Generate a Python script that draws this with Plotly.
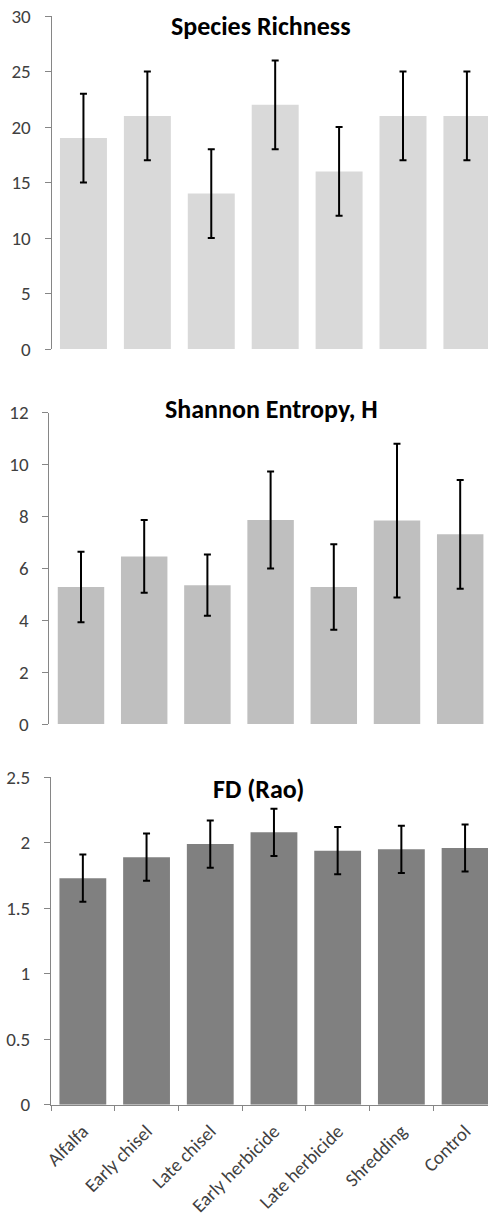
import plotly.graph_objects as go

W, H = 488, 1218

categories = ["Alfalfa", "Early chisel", "Late chisel", "Early herbicide",
              "Late herbicide", "Shredding", "Control"]

richness = [19, 21, 14, 22, 16, 21, 21]
richness_err = [4, 4, 4, 4, 4, 4, 4]

shannon = [5.28, 6.46, 5.35, 7.86, 5.28, 7.84, 7.31]
shannon_err = [1.36, 1.40, 1.18, 1.87, 1.65, 2.96, 2.10]

fd_rao = [1.73, 1.89, 1.99, 2.08, 1.94, 1.95, 1.96]
fd_rao_err = [0.18, 0.18, 0.18, 0.18, 0.18, 0.18, 0.18]

titles = ["Species Richness", "Shannon Entropy, H", "FD (Rao)"]
colors = ["#d9d9d9", "#bfbfbf", "#808080"]

FONT = "Calibri, Carlito, Lato, sans-serif"
TICK_COLOR = "#404040"
AXIS_COLOR = "#868686"

def px_x(p):
    return p / W

def px_y(p):
    return 1 - p / H

panels = [
    dict(y=richness, e=richness_err, xl=51.5, yt=16, yb=349, xr=6.33, yr=[0, 30], dtick=5),
    dict(y=shannon, e=shannon_err, xl=49.4, yt=412.7, yb=724, xr=6.44, yr=[0, 12], dtick=2),
    dict(y=fd_rao, e=fd_rao_err, xl=51, yt=777.3, yb=1104.7, xr=6.36, yr=[0, 2.5], dtick=0.5),
]
title_pos = [(261, 26), (271, 409), (258, 789)]

fig = go.Figure()
layout = {}
for i, p in enumerate(panels):
    n = "" if i == 0 else str(i + 1)
    fig.add_trace(go.Bar(
        x=categories, y=p["y"],
        marker=dict(color=colors[i], line=dict(width=0)),
        error_y=dict(type="data", array=p["e"], visible=True,
                     color="black", thickness=2, width=3.5),
        xaxis="x" + n, yaxis="y" + n, showlegend=False,
    ))
    last = i == 2
    layout["xaxis" + n] = dict(
        domain=[px_x(p["xl"]), 1],
        range=[-0.5, p["xr"]],
        anchor="y" + n,
        showline=last, linecolor=AXIS_COLOR, linewidth=1,
        ticks="outside" if last else "", ticklen=5, tickcolor=AXIS_COLOR,
        tickson="boundaries",
        showticklabels=last, tickangle=-45,
        ticklabelstandoff=7,
        tickfont=dict(family=FONT, size=19, color=TICK_COLOR),
        showgrid=False, zeroline=False, automargin=False, fixedrange=True,
    )
    layout["yaxis" + n] = dict(
        domain=[px_y(p["yb"]), px_y(p["yt"])],
        range=p["yr"], dtick=p["dtick"],
        anchor="x" + n,
        showline=True, linecolor=AXIS_COLOR, linewidth=1,
        ticks="outside", ticklen=6, tickcolor=AXIS_COLOR,
        ticklabelstandoff=10,
        tickfont=dict(family=FONT, size=19, color=TICK_COLOR),
        showgrid=False, zeroline=False, automargin=False, fixedrange=True,
    )

annotations = []
for t, (tx, ty) in zip(titles, title_pos):
    annotations.append(dict(
        text="<b>" + t + "</b>", x=px_x(tx), y=px_y(ty),
        xref="paper", yref="paper", xanchor="center", yanchor="middle",
        showarrow=False, font=dict(family=FONT, size=26, color="black"),
    ))

fig.update_layout(
    width=W, height=H,
    margin=dict(l=0, r=0, t=0, b=0),
    paper_bgcolor="white", plot_bgcolor="white",
    bargap=0.265,
    annotations=annotations,
    **layout,
)

fig.write_html("out.html", config={"displayModeBar": False},
               post_script="document.body.style.margin='0';document.body.style.overflow='hidden';")
